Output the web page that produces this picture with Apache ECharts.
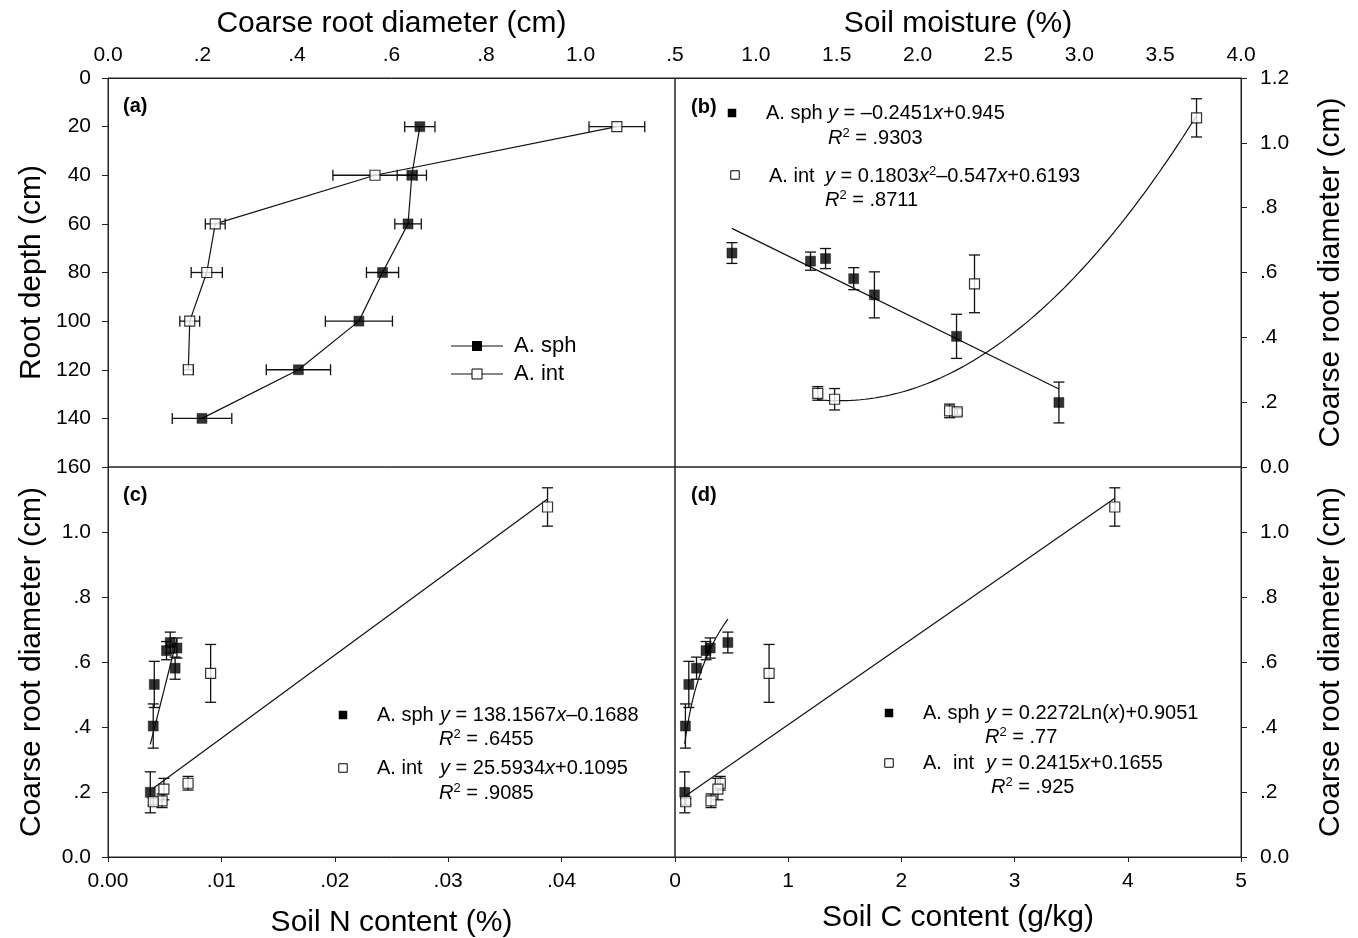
<!DOCTYPE html>
<html><head><meta charset="utf-8">
<script src="https://cdn.jsdelivr.net/npm/echarts@6/dist/echarts.min.js"></script>
<style>html,body{margin:0;padding:0;background:#fff}#c{width:1358px;height:938px}</style>
</head><body><div id="c"></div>
<script>
// ---------------- data ----------------
const depthSph = [20, 40, 60, 80, 100, 120, 140];
const depthInt = [20, 40, 60, 80, 100, 120];
const sphDiam = [0.660, 0.643, 0.635, 0.581, 0.531, 0.403, 0.199];
const sphDiamErr = [0.032, 0.031, 0.028, 0.034, 0.071, 0.068, 0.063];
const intDiam = [1.077, 0.565, 0.227, 0.209, 0.173, 0.170];
const intDiamErr = [0.059, 0.089, 0.021, 0.033, 0.021, 0.010];
const sphMoist = [0.852, 1.431, 1.338, 1.605, 1.733, 2.241, 2.874];
const intMoist = [3.725, 2.352, 1.383, 1.487, 2.198, 2.245];
const sphN = [0.00549, 0.00608, 0.00516, 0.00592, 0.00408, 0.00399, 0.00373];
const intN = [0.03876, 0.00905, 0.00706, 0.00493, 0.00477, 0.00399];
const sphC = [0.467, 0.311, 0.274, 0.190, 0.122, 0.092, 0.086];
const intC = [3.885, 0.831, 0.400, 0.379, 0.318, 0.095];
// published regression equations
const fitBsph = [-0.2451, 0.945];          // y = a x + b
const fitBint = [0.1803, -0.547, 0.6193];  // y = a x^2 + b x + c
const fitCsph = [138.1567, -0.1688];       // y = a x + b
const fitCint = [25.5934, 0.1095];
const fitDsph = [0.2272, 0.9051];          // y = a ln(x) + b
const fitDint = [0.2415, 0.1655];
// tick settings
const ticksA_x = [0, 1.2, 0.2], ticksA_y = [0, 160, 20];
const ticksB_x = [0.5, 4.0, 0.5], ticksDiam = [0, 1.2, 0.2];
const ticksC_x = [0, 0.05, 0.01], ticksD_x = [0, 5, 1];

// ---------------- helpers ----------------
const FONT = '"Liberation Sans", Arial, Helvetica, sans-serif';
const INK = '#111';
function fmt(d, hide) {
  return function (v) {
    if (hide !== undefined && Math.abs(v - hide) < 1e-9) return '';
    let s = (+v).toFixed(d);
    if (v !== 0 && Math.abs(v) < 1) s = s.replace(/^(-?)0\./, '$1.');
    return s;
  };
}
function zip(xs, ys) { return xs.map((x, i) => [x, ys[i]]); }
function zip3(xs, ys, es) { return xs.map((x, i) => [x, ys[i], es[i]]); }
function sample(f, x0, x1, n) {
  const out = [];
  for (let i = 0; i <= n; i++) { const x = x0 + (x1 - x0) * i / n; out.push([x, f(x)]); }
  return out;
}
const minOf = a => Math.min.apply(null, a), maxOf = a => Math.max.apply(null, a);

function errItem(horizontal) {
  return function (params, api) {
    const x = api.value(0), y = api.value(1), e = api.value(2);
    const a = horizontal ? api.coord([x - e, y]) : api.coord([x, y - e]);
    const b = horizontal ? api.coord([x + e, y]) : api.coord([x, y + e]);
    const h = 5.5;
    const st = { stroke: INK, lineWidth: 1.3 };
    const mk = (x1, y1, x2, y2) => ({ type: 'line', shape: { x1, y1, x2, y2 }, style: st });
    const ch = [mk(a[0], a[1], b[0], b[1])];
    if (horizontal) ch.push(mk(a[0], a[1] - h, a[0], a[1] + h), mk(b[0], b[1] - h, b[0], b[1] + h));
    else ch.push(mk(a[0] - h, a[1], a[0] + h, a[1]), mk(b[0] - h, b[1], b[0] + h, b[1]));
    return { type: 'group', children: ch };
  };
}
function errSeries(g, data, horizontal) {
  return { type: 'custom', xAxisIndex: g, yAxisIndex: g, data: data, encode: { x: 0, y: 1 },
    renderItem: errItem(horizontal), z: 3, silent: true };
}
function lineSeries(g, data) {
  return { type: 'line', xAxisIndex: g, yAxisIndex: g, data: data, symbol: 'none', showSymbol: false,
    lineStyle: { color: INK, width: 1.2 }, z: 2, silent: true };
}
function markSeries(g, data, filled) {
  return { type: 'scatter', xAxisIndex: g, yAxisIndex: g, data: data, symbol: 'rect', symbolSize: 10,
    itemStyle: filled ? { color: '#000', borderColor: '#000', borderWidth: 0.5 }
                      : { color: '#fff', borderColor: '#000', borderWidth: 1.2 },
    z: 5, silent: true };
}

const axisBase = {
  type: 'value', nameLocation: 'middle', nameMoveOverlap: false,
  axisLine: { show: true, onZero: false, lineStyle: { color: '#222', width: 1 } },
  splitLine: { show: false },
  axisLabel: { color: '#000', fontFamily: FONT, fontSize: 21 },
  nameTextStyle: { color: '#000', fontFamily: FONT, fontSize: 30 }
};
function ax(o) {
  const r = Object.assign({}, axisBase, o);
  r.axisLabel = Object.assign({}, axisBase.axisLabel, o.axisLabel || {});
  return r;
}
const tickOn = len => ({ show: true, inside: false, length: len, lineStyle: { color: '#222', width: 1 } });

// ---------------- layout ----------------
const G = [
  { left: 108, top: 78, width: 567, height: 389 },
  { left: 675, top: 78, width: 566, height: 389 },
  { left: 108, top: 467, width: 567, height: 390 },
  { left: 675, top: 467, width: 566, height: 390 }
].map(g => Object.assign({ show: true, borderColor: '#222', borderWidth: 1, backgroundColor: 'transparent',
  outerBoundsMode: 'none', containLabel: false }, g));

const xAxes = [
  ax({ gridIndex: 0, position: 'top', min: ticksA_x[0], max: ticksA_x[1], interval: ticksA_x[2],
    axisTick: { show: false }, axisLabel: { formatter: fmt(1, ticksA_x[1]), margin: 12 },
    name: 'Coarse root diameter (cm)', nameGap: 39 }),
  ax({ gridIndex: 1, position: 'top', min: ticksB_x[0], max: ticksB_x[1], interval: ticksB_x[2],
    axisTick: { show: false }, axisLabel: { formatter: fmt(1), margin: 12 },
    name: 'Soil moisture (%)', nameGap: 39 }),
  ax({ gridIndex: 2, position: 'bottom', min: ticksC_x[0], max: ticksC_x[1], interval: ticksC_x[2],
    axisTick: tickOn(5), axisLabel: { formatter: fmt(2, ticksC_x[1]), margin: 14 },
    name: 'Soil N content (%)', nameGap: 51 }),
  ax({ gridIndex: 3, position: 'bottom', min: ticksD_x[0], max: ticksD_x[1], interval: ticksD_x[2],
    axisTick: tickOn(5), axisLabel: { formatter: fmt(0), margin: 14 },
    name: 'Soil C content (g/kg)', nameGap: 46 })
];
const yAxes = [
  ax({ gridIndex: 0, position: 'left', inverse: true, min: ticksA_y[0], max: ticksA_y[1], interval: ticksA_y[2],
    axisTick: tickOn(6), axisLabel: { formatter: v => String(v), margin: 17 },
    name: 'Root depth (cm)', nameGap: 61, nameRotate: 90 }),
  ax({ gridIndex: 1, position: 'right', min: ticksDiam[0], max: ticksDiam[1], interval: ticksDiam[2],
    axisTick: tickOn(6), axisLabel: { formatter: fmt(1), margin: 19 },
    name: 'Coarse root diameter (cm)', nameGap: 75, nameRotate: 90 }),
  ax({ gridIndex: 2, position: 'left', min: ticksDiam[0], max: ticksDiam[1], interval: ticksDiam[2],
    axisTick: tickOn(6), axisLabel: { formatter: fmt(1, ticksDiam[1]), margin: 17 },
    name: 'Coarse root diameter (cm)', nameGap: 61, nameRotate: 90 }),
  ax({ gridIndex: 3, position: 'right', min: ticksDiam[0], max: ticksDiam[1], interval: ticksDiam[2],
    axisTick: tickOn(6), axisLabel: { formatter: fmt(1, ticksDiam[1]), margin: 19 },
    name: 'Coarse root diameter (cm)', nameGap: 75, nameRotate: 90 })
];

// ---------------- series ----------------
const series = [
  // (a) profile
  lineSeries(0, zip(sphDiam, depthSph)),
  lineSeries(0, zip(intDiam, depthInt)),
  errSeries(0, zip3(sphDiam, depthSph, sphDiamErr), true),
  errSeries(0, zip3(intDiam, depthInt, intDiamErr), true),
  markSeries(0, zip(sphDiam, depthSph), true),
  markSeries(0, zip(intDiam, depthInt), false),
  // (b) soil moisture
  lineSeries(1, sample(x => fitBsph[0] * x + fitBsph[1], minOf(sphMoist), maxOf(sphMoist), 1)),
  lineSeries(1, sample(x => fitBint[0] * x * x + fitBint[1] * x + fitBint[2], minOf(intMoist), maxOf(intMoist), 80)),
  errSeries(1, zip3(sphMoist, sphDiam, sphDiamErr), false),
  errSeries(1, zip3(intMoist, intDiam, intDiamErr), false),
  markSeries(1, zip(sphMoist, sphDiam), true),
  markSeries(1, zip(intMoist, intDiam), false),
  // (c) soil N
  lineSeries(2, sample(x => fitCsph[0] * x + fitCsph[1], minOf(sphN), maxOf(sphN), 1)),
  lineSeries(2, sample(x => fitCint[0] * x + fitCint[1], minOf(intN), maxOf(intN), 1)),
  errSeries(2, zip3(sphN, sphDiam, sphDiamErr), false),
  errSeries(2, zip3(intN, intDiam, intDiamErr), false),
  markSeries(2, zip(sphN, sphDiam), true),
  markSeries(2, zip(intN, intDiam), false),
  // (d) soil C
  lineSeries(3, sample(x => fitDsph[0] * Math.log(x) + fitDsph[1], minOf(sphC), maxOf(sphC), 80)),
  lineSeries(3, sample(x => fitDint[0] * x + fitDint[1], minOf(intC), maxOf(intC), 1)),
  errSeries(3, zip3(sphC, sphDiam, sphDiamErr), false),
  errSeries(3, zip3(intC, intDiam, intDiamErr), false),
  markSeries(3, zip(sphC, sphDiam), true),
  markSeries(3, zip(intC, intDiam), false)
];

// ---------------- annotations ----------------
const RICH = {
  n: { fontSize: 20, fontFamily: FONT, lineHeight: 23, fill: '#000', color: '#000' },
  i: { fontSize: 20, fontFamily: FONT, fontStyle: 'italic', lineHeight: 23, fill: '#000', color: '#000' },
  s: { fontSize: 13, fontFamily: FONT, lineHeight: 14, verticalAlign: 'top', fill: '#000', color: '#000' }
};
function txt(x, y, text, opts) {
  opts = opts || {};
  return { type: 'text', z: 10, silent: true,
    style: Object.assign({ text: text, x: x, y: y, fill: '#000', fontFamily: FONT, fontSize: opts.size || 20,
      fontWeight: opts.bold ? 'bold' : 'normal', lineHeight: 23,
      align: 'left', verticalAlign: 'middle', textAlign: 'left', textVerticalAlign: 'middle',
      rich: RICH }) };
}
function sq(cx, cy, s, filled) {
  return { type: 'rect', z: 10, silent: true, shape: { x: cx - s / 2, y: cy - s / 2, width: s, height: s },
    style: filled ? { fill: '#000' } : { fill: '#fff', stroke: '#000', lineWidth: 1 } };
}
function seg(x1, y1, x2, y2) {
  return { type: 'line', z: 10, silent: true, shape: { x1, y1, x2, y2 }, style: { stroke: INK, lineWidth: 1.2 } };
}
const R2 = v => '{i|R}{s|2}{n| = ' + v + '}';
const graphics = [
  // (a)
  txt(123, 106, '(a)', { bold: true }),
  seg(451, 346, 503, 346), sq(477, 346, 10, true), txt(514, 346, 'A. sph', { size: 22 }),
  seg(451, 374, 503, 374), sq(477, 374, 10, false), txt(514, 374, 'A. int', { size: 22 }),
  // (b)
  txt(691, 107, '(b)', { bold: true }),
  sq(732, 113, 8.5, true), txt(766, 113, '{n|A. sph}'),
  txt(828, 113, '{i|y}{n| = –0.2451}{i|x}{n|+0.945}'),
  txt(828, 138, R2('.9303')),
  sq(735, 175, 8.5, false), txt(769, 176, '{n|A. int}'),
  txt(825, 176, '{i|y}{n| = 0.1803}{i|x}{s|2}{n|–0.547}{i|x}{n|+0.6193}'),
  txt(825, 200, R2('.8711')),
  // (c)
  txt(123, 495, '(c)', { bold: true }),
  sq(343, 715, 8.5, true), txt(377, 715, '{n|A. sph}'),
  txt(440, 715, '{i|y}{n| = 138.1567}{i|x}{n|–0.1688}'),
  txt(439, 739, R2('.6455')),
  sq(343, 768, 8.5, false), txt(377, 768, '{n|A. int}'),
  txt(440, 768, '{i|y}{n| = 25.5934}{i|x}{n|+0.1095}'),
  txt(439, 793, R2('.9085')),
  // (d)
  txt(691, 495, '(d)', { bold: true }),
  sq(889, 713, 8.5, true), txt(923, 713, '{n|A. sph}'),
  txt(986, 713, '{i|y}{n| = 0.2272Ln(}{i|x}{n|)+0.9051}'),
  txt(985, 737, R2('.77')),
  sq(889, 763, 8.5, false), txt(923, 763, '{n|A.  int}'),
  txt(986, 763, '{i|y}{n| = 0.2415}{i|x}{n|+0.1655}'),
  txt(991, 787, R2('.925'))
];

const chart = echarts.init(document.getElementById('c'), null, { renderer: 'canvas' });
chart.setOption({
  animation: false,
  backgroundColor: '#fff',
  textStyle: { fontFamily: FONT, color: '#000' },
  grid: G,
  xAxis: xAxes,
  yAxis: yAxes,
  series: series,
  graphic: { elements: graphics }
});
</script>
</body></html>
